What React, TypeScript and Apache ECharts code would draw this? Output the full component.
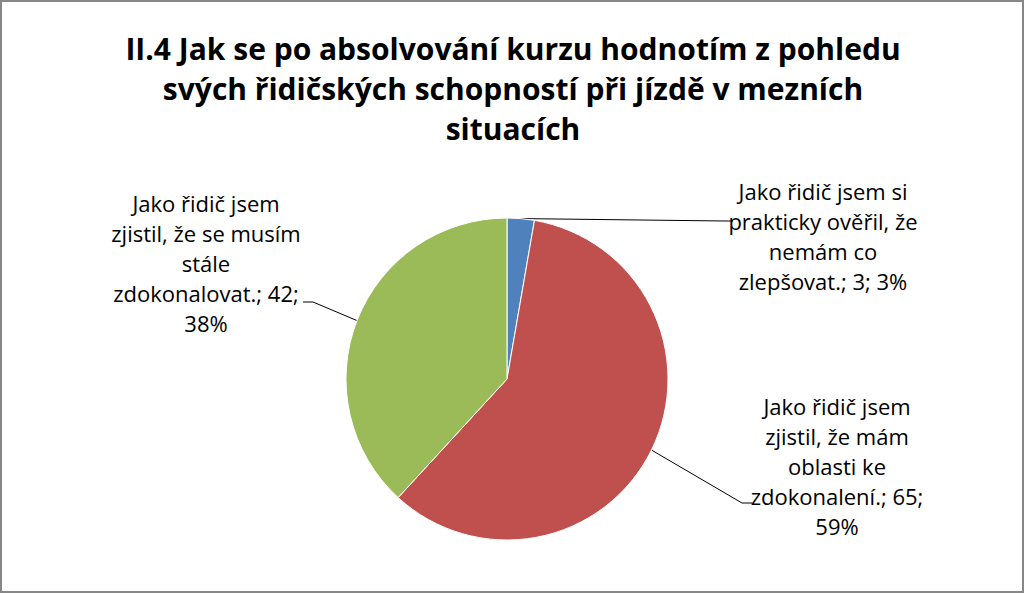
import React, { useEffect, useRef } from 'react';
import * as echarts from 'echarts';

const TITLE_LINES = [
  'II.4 Jak se po absolvování kurzu hodnotím z pohledu',
  'svých řidičských schopností při jízdě v mezních',
  'situacích',
];

// názvy kategorií (zalomené jako v originálu)
const CATEGORIES = [
  'Jako řidič jsem si\nprakticky ověřil, že\nnemám co\nzlepšovat.',
  'Jako řidič jsem\nzjistil, že mám\noblasti ke\nzdokonalení.',
  'Jako řidič jsem\nzjistil, že se musím\nstále\nzdokonalovat.',
];
const VALUES = [3, 65, 42];
const COLORS = ['#4F81BD', '#C0504D', '#9BBB59'];
// zda se procento zalamuje na nový řádek
const PERCENT_ON_NEW_LINE = [false, true, true];

// umístění popisků (střed textu) a lomu vodicí čáry
const LABEL_CENTER: [number, number][] = [
  [823, 236],
  [837, 466],
  [206, 263],
];
const LINE_ELBOW: [number, number][][] = [
  [[725, 221], [733, 221]],
  [[742, 503], [752, 503]],
  [[313, 302], [303, 302]],
];

const PIE_CENTER: [number, number] = [507, 379];
const PIE_RADIUS = 161;

const FONT = '"Open Sans", "Noto Sans", sans-serif';

export default function App() {
  const chartRef = useRef<HTMLDivElement>(null);

  useEffect(() => {
    if (!chartRef.current) return;
    const chart = echarts.init(chartRef.current, undefined, { renderer: 'svg' });

    const total = VALUES.reduce((a, b) => a + b, 0);

    // počáteční bod vodicí čáry na obvodu výseče (záloha)
    const edgePoint = (idx: number): [number, number] => {
      let before = 0;
      for (let i = 0; i < idx; i++) before += VALUES[i];
      const mid = ((before + VALUES[idx] / 2) / total) * Math.PI * 2;
      return [
        PIE_CENTER[0] + PIE_RADIUS * Math.sin(mid),
        PIE_CENTER[1] - PIE_RADIUS * Math.cos(mid),
      ];
    };

    const option: echarts.EChartsOption = {
      animation: false,
      title: {
        text: TITLE_LINES.join('\n'),
        left: 513,
        top: 28,
        padding: 0,
        textAlign: 'center',
        textStyle: {
          fontFamily: FONT,
          fontSize: 30,
          fontWeight: 'bold',
          color: '#000',
          lineHeight: 40,
        },
      },
      series: [
        {
          type: 'pie',
          center: PIE_CENTER,
          radius: PIE_RADIUS,
          startAngle: 90,
          clockwise: true,
          avoidLabelOverlap: false,
          silent: true,
          itemStyle: {
            borderColor: '#fff',
            borderWidth: 1,
          },
          label: {
            show: true,
            position: 'outside',
            fontFamily: FONT,
            fontSize: 22,
            lineHeight: 30,
            color: '#000',
            formatter: (p: any) => {
              const pct = Math.round((p.value / total) * 100);
              const sep = PERCENT_ON_NEW_LINE[p.dataIndex] ? '\n' : ' ';
              return `${p.name}; ${p.value};${sep}${pct}%`;
            },
          },
          labelLine: {
            show: true,
            length: 20,
            length2: 10,
            lineStyle: { color: '#000', width: 1 },
          },
          labelLayout: (params: any) => {
            const i = params.dataIndex;
            const start =
              params.labelLinePoints && params.labelLinePoints[0]
                ? params.labelLinePoints[0]
                : edgePoint(i);
            return {
              x: LABEL_CENTER[i][0],
              y: LABEL_CENTER[i][1],
              align: 'center',
              verticalAlign: 'middle',
              labelLinePoints: [start, LINE_ELBOW[i][0], LINE_ELBOW[i][1]],
            };
          },
          data: CATEGORIES.map((name, i) => ({
            name,
            value: VALUES[i],
            itemStyle: { color: COLORS[i] },
          })),
        },
      ],
    };

    chart.setOption(option);
    return () => {
      chart.dispose();
    };
  }, []);

  return (
    <div
      style={{
        position: 'absolute',
        left: 0,
        top: 0,
        width: 1024,
        height: 593,
        boxSizing: 'border-box',
        border: '2px solid #878787',
        background: '#fff',
      }}
    >
      <div
        ref={chartRef}
        style={{ position: 'absolute', left: -2, top: -2, width: 1024, height: 593 }}
      />
    </div>
  );
}
